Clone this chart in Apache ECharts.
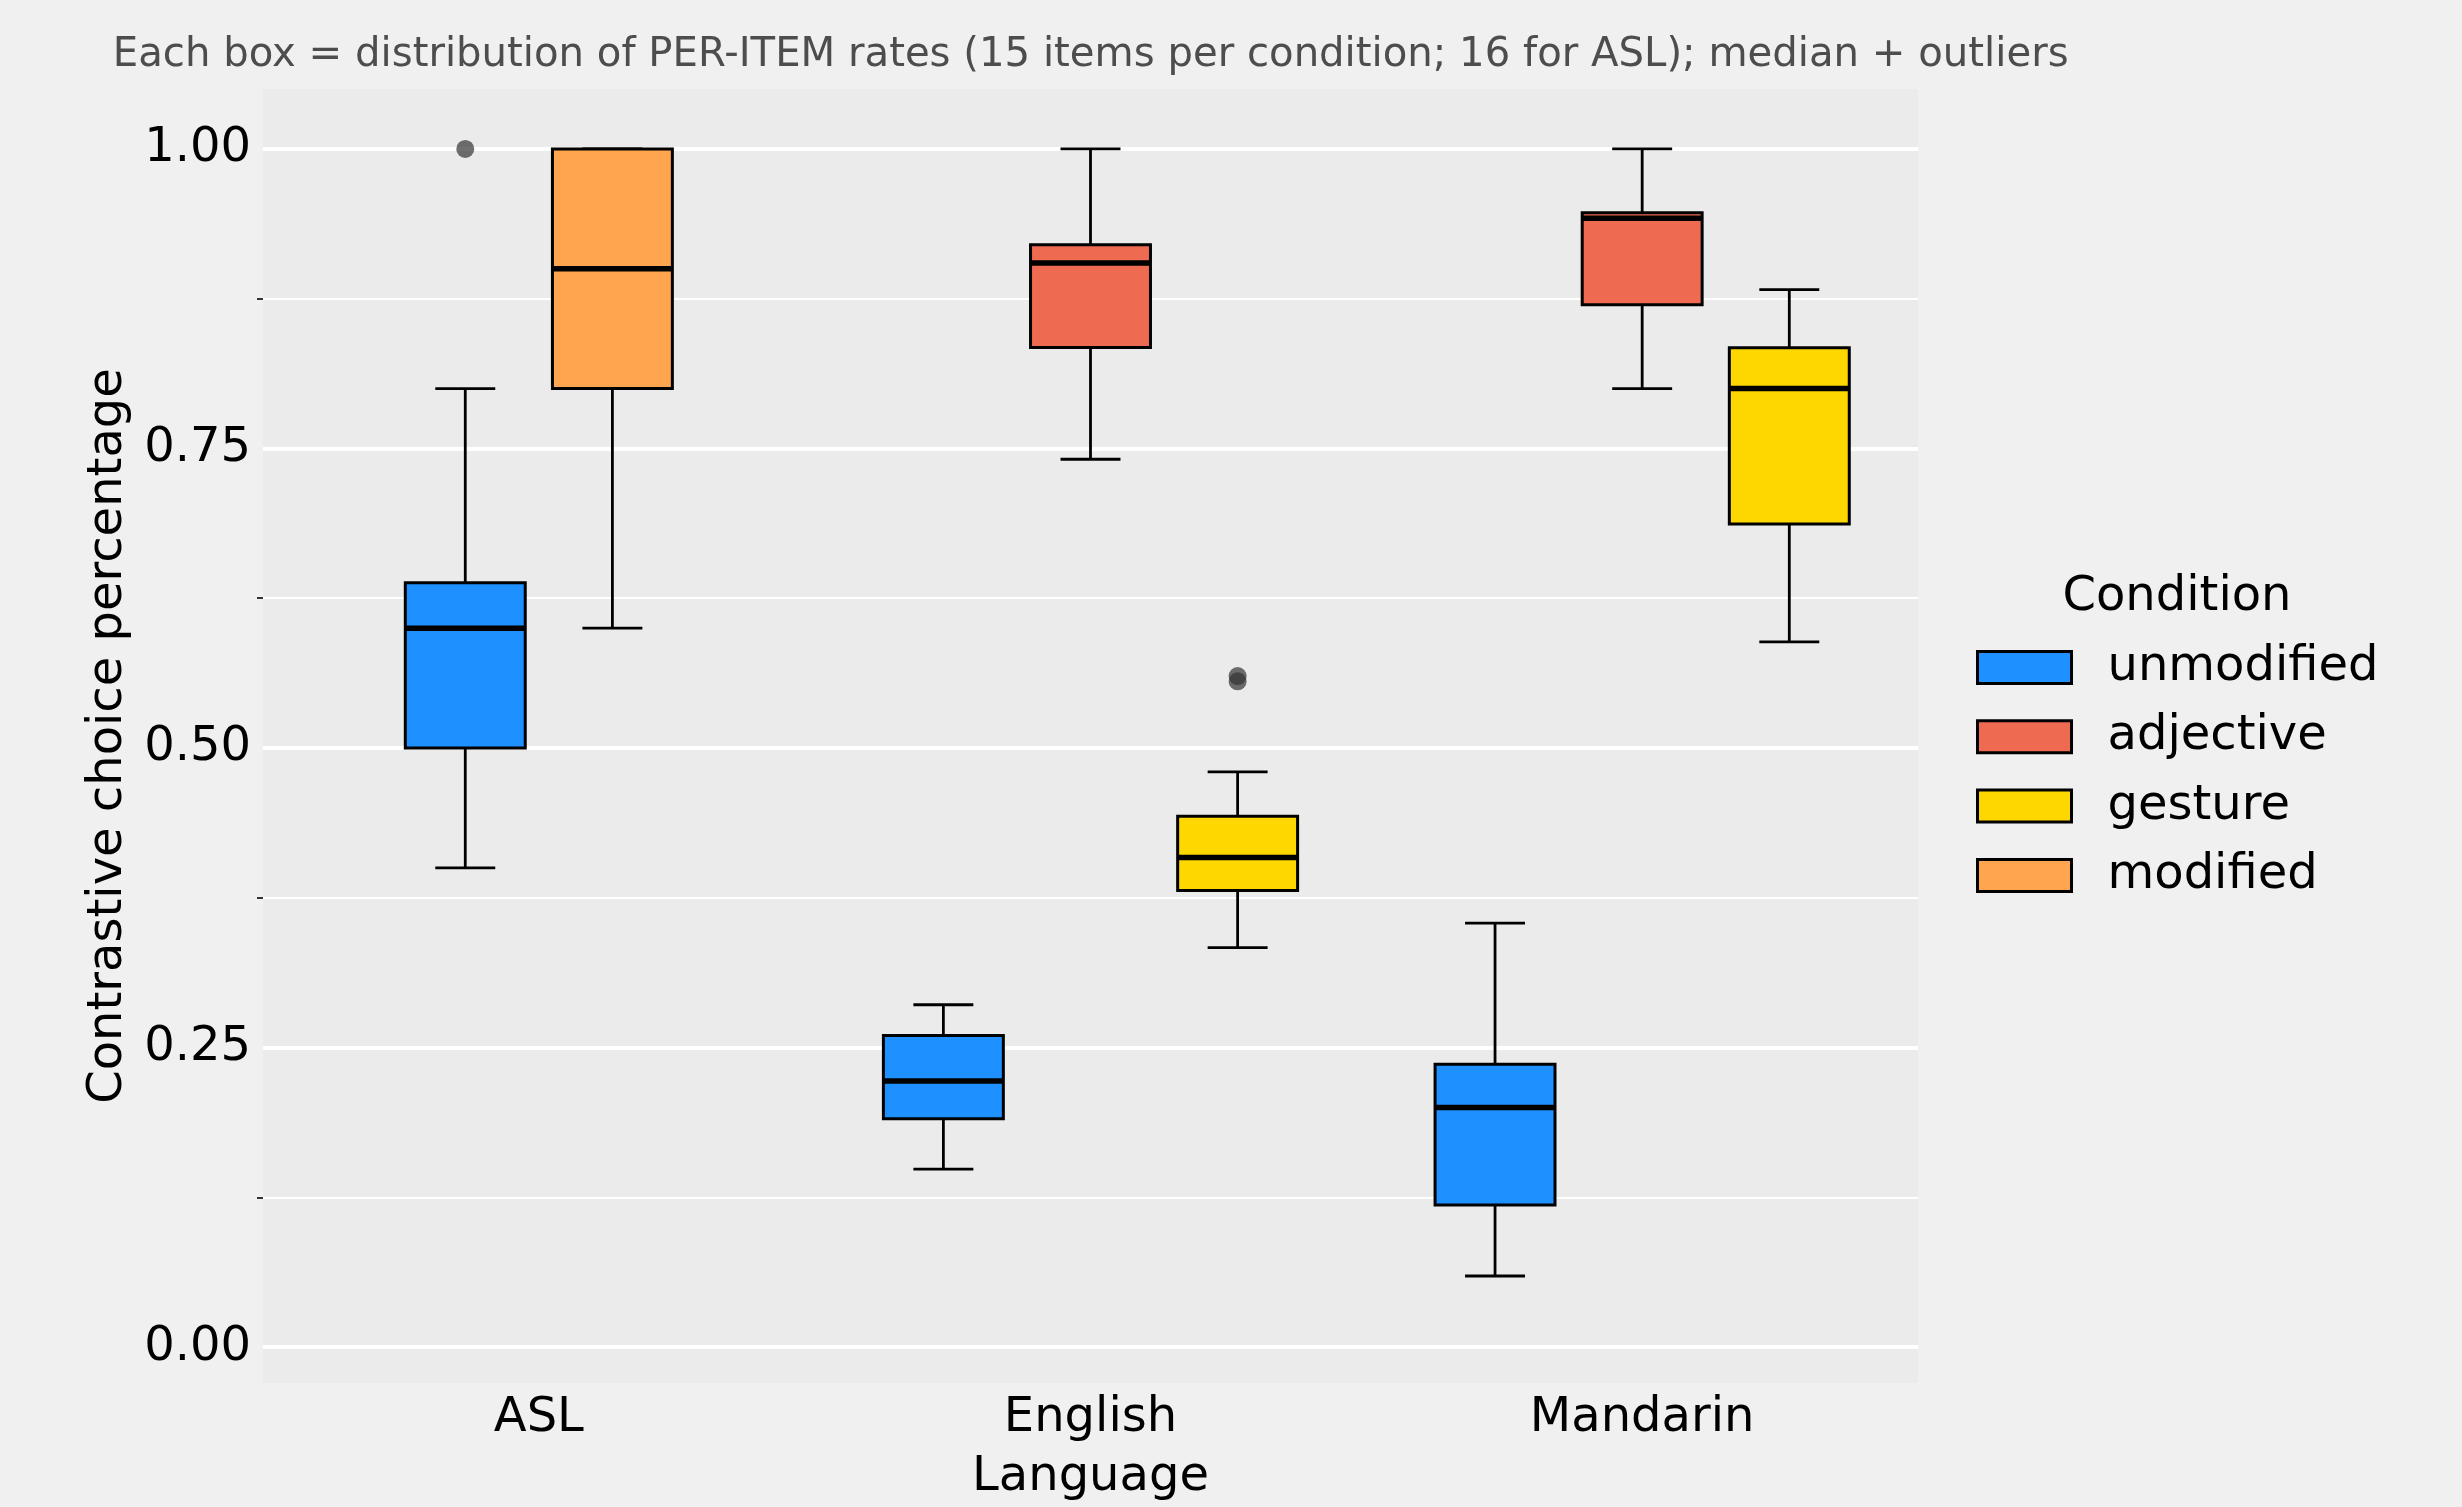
<!DOCTYPE html>
<html>
<head>
<meta charset="utf-8">
<script src="https://cdn.jsdelivr.net/npm/echarts@6/dist/echarts.min.js"></script>
<style>
html,body{margin:0;padding:0;background:#F0F0F0;}
#chart{width:2462px;height:1507px;}
</style>
</head>
<body>
<div id="chart"></div>
<script>
// ---- data ----
const languages = ['ASL', 'English', 'Mandarin'];
const conditions = ['unmodified', 'adjective', 'gesture', 'modified'];
const conditionColors = ['#1E90FF', '#EE6A50', '#FFD700', '#FFA54F'];
// five-number summaries per language: [low whisker, Q1, median, Q3, high whisker]; null = condition not tested
const unmodifiedStats = [[0.40, 0.50, 0.60, 0.638, 0.80], [0.1485, 0.1905, 0.222, 0.260, 0.2857], [0.0593, 0.1185, 0.20, 0.236, 0.3538]];
const adjectiveStats  = [null, [0.741, 0.8343, 0.9048, 0.920, 1.00], [0.80, 0.870, 0.9422, 0.9467, 1.00]];
const gestureStats    = [null, [0.3333, 0.381, 0.4086, 0.443, 0.48], [0.5885, 0.687, 0.80, 0.834, 0.8825]];
const modifiedStats   = [[0.60, 0.80, 0.90, 1.00, 1.00], null, null];
// outliers per language
const unmodifiedOutliers = [[1.00], [], []];
const adjectiveOutliers  = [[], [], []];
const gestureOutliers    = [[], [0.56, 0.5556], []];
const modifiedOutliers   = [[], [], []];
const yTicks = [0, 0.25, 0.5, 0.75, 1];
const yMinorTicks = [0.125, 0.375, 0.625, 0.875];

const statsByCond = [unmodifiedStats, adjectiveStats, gestureStats, modifiedStats];
const outliersByCond = [unmodifiedOutliers, adjectiveOutliers, gestureOutliers, modifiedOutliers];

const FONT = 'DejaVu Sans';
const DODGE = 0.2667;   // spacing between dodged boxes, fraction of band
const BOXW = 0.2174;    // box width, fraction of band

function makeSeries(ci) {
  const stats = statsByCond[ci];
  const outs = outliersByCond[ci];
  const data = [];
  stats.forEach((s, li) => { if (s) data.push([li].concat(s)); });
  return {
    type: 'custom',
    name: conditions[ci],
    itemStyle: { color: conditionColors[ci] },
    encode: { x: 0, y: [1, 2, 3, 4, 5] },
    data: data,
    renderItem: function (params, api) {
      const li = api.value(0);
      const present = [];
      statsByCond.forEach((st, k) => { if (st[li]) present.push(k); });
      const slot = present.indexOf(ci);
      const n = present.length;
      const band = api.size([1, 0])[0];
      const cx = api.coord([li, 0])[0] + (slot - (n - 1) / 2) * DODGE * band;
      const hw = BOXW * band / 2;
      const cw = hw / 2;
      const yLo = api.coord([li, api.value(1)])[1];
      const yQ1 = api.coord([li, api.value(2)])[1];
      const yMed = api.coord([li, api.value(3)])[1];
      const yQ3 = api.coord([li, api.value(4)])[1];
      const yHi = api.coord([li, api.value(5)])[1];
      const lineStyle = { stroke: '#000', lineWidth: 2.8 };
      const children = [
        { type: 'line', shape: { x1: cx, y1: yQ3, x2: cx, y2: yHi }, style: lineStyle },
        { type: 'line', shape: { x1: cx, y1: yQ1, x2: cx, y2: yLo }, style: lineStyle },
        { type: 'line', shape: { x1: cx - cw, y1: yHi, x2: cx + cw, y2: yHi }, style: lineStyle },
        { type: 'line', shape: { x1: cx - cw, y1: yLo, x2: cx + cw, y2: yLo }, style: lineStyle },
        { type: 'rect', shape: { x: cx - hw, y: yQ3, width: 2 * hw, height: yQ1 - yQ3 },
          style: { fill: conditionColors[ci], stroke: '#000', lineWidth: 3 } },
        { type: 'line', shape: { x1: cx - hw, y1: yMed, x2: cx + hw, y2: yMed }, style: { stroke: '#000', lineWidth: 5.5 } }
      ];
      (outs[li] || []).forEach(v => {
        const p = api.coord([li, v]);
        children.push({ type: 'circle', shape: { cx: cx, cy: p[1], r: 9 }, style: { fill: 'rgba(51,51,51,0.7)' } });
      });
      return { type: 'group', children: children };
    }
  };
}

const chart = echarts.init(document.getElementById('chart'), null, { renderer: 'canvas' });
chart.setOption({
  backgroundColor: '#F0F0F0',
  animation: false,
  textStyle: { fontFamily: FONT },
  grid: { left: 263, right: 544, top: 89, bottom: 118, show: true, backgroundColor: '#EBEBEB', borderWidth: 0 },
  legend: {
    orient: 'vertical', left: 1976, top: 643.5, padding: 0,
    itemWidth: 94, itemHeight: 32, itemGap: 21.3,
    icon: 'rect',
    itemStyle: { borderColor: '#000', borderWidth: 3 },
    textStyle: { fontFamily: FONT, fontSize: 48, color: '#000', padding: [0, 0, 0, 31] },
    data: conditions
  },
  graphic: [
    { type: 'text', left: 112.8, top: 36, style: { text: 'Each box = distribution of PER-ITEM rates (15 items per condition; 16 for ASL); median + outliers', font: '40.2px "DejaVu Sans"', fill: '#4D4D4D' } },
    { type: 'text', x: 2177, y: 598, style: { text: 'Condition', font: '48px "DejaVu Sans"', fill: '#000', align: 'center', verticalAlign: 'middle' } }
  ],
  xAxis: {
    type: 'category', data: languages, boundaryGap: true,
    axisLine: { show: false }, axisTick: { show: false },
    axisLabel: { fontFamily: FONT, fontSize: 48, color: '#000', margin: 12 },
    splitLine: { show: false },
    name: 'Language', nameLocation: 'middle', nameGap: 71,
    nameTextStyle: { fontFamily: FONT, fontSize: 48, color: '#000' }
  },
  yAxis: [{
    type: 'value', min: -0.03, max: 1.05,
    axisLine: { show: false },
    axisTick: { show: false, customValues: yTicks },
    axisLabel: { customValues: yTicks, formatter: v => v.toFixed(2), fontFamily: FONT, fontSize: 48, color: '#000', margin: 12 },
    splitLine: { show: true, lineStyle: { color: '#FFFFFF', width: 4 } },
    name: 'Contrastive choice percentage', nameLocation: 'middle', nameGap: 130,
    nameTextStyle: { fontFamily: FONT, fontSize: 48, color: '#000' }
  }, {
    type: 'value', min: -0.03, max: 1.05, position: 'left', offset: 0,
    axisLine: { show: false },
    axisTick: { show: true, customValues: yMinorTicks, length: 6, lineStyle: { color: '#333', width: 2 } },
    axisLabel: { show: false, customValues: yMinorTicks },
    splitLine: { show: true, lineStyle: { color: '#FFFFFF', width: 2 } }
  }],
  series: conditions.map((c, i) => makeSeries(i))
});
</script>
</body>
</html>
